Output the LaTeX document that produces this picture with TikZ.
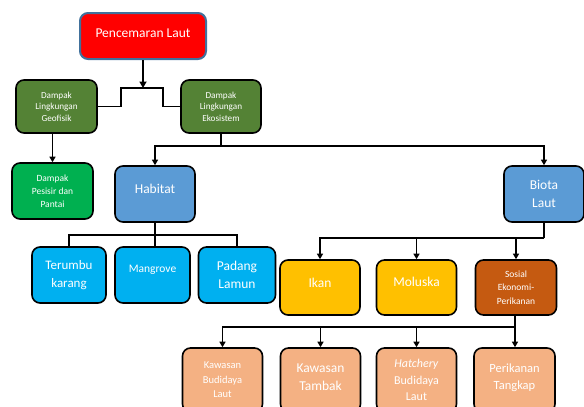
\documentclass[tikz,border=0pt]{standalone}
\usepackage{fontspec}
\setmainfont{Carlito}
\usetikzlibrary{arrows.meta}

\definecolor{redtop}{HTML}{FF0000}
\definecolor{blueedge}{HTML}{41719C}
\definecolor{olive}{HTML}{548235}
\definecolor{brightgreen}{HTML}{00B050}
\definecolor{steel}{HTML}{5B9BD5}
\definecolor{cyanbox}{HTML}{00B0F0}
\definecolor{amber}{HTML}{FFC000}
\definecolor{rust}{HTML}{C55A11}
\definecolor{salmon}{HTML}{F4B183}

\newcommand{\fsz}[2]{\fontsize{#1}{#2}\selectfont}

\tikzset{
	box/.style={draw=black, line width=1.6pt, rounded corners=8pt, text=white, align=center, inner sep=1pt},
	link/.style={line width=1.3pt},
	arr/.style={link, -{Triangle[length=5.5pt,width=6pt]}},
}

\begin{document}
\begin{tikzpicture}[x=1pt, y=-1pt]
		\useasboundingbox (0,0) rectangle (584,407);

		%top of the tree
		\node[box, draw=blueedge, line width=2pt, fill=redtop, minimum width=126pt, minimum height=46pt, font=\fsz{13.5}{16}] (laut) at (143,36) {Pencemaran Laut\\[-10pt]};

		%the two kinds of impact
		\node[box, fill=olive, minimum width=81pt, minimum height=53pt, font=\fsz{9.2}{11.5}] (geofisik) at (56.5,106.5) {Dampak\\Lingkungan\\Geofisik};
		\node[box, fill=olive, minimum width=80pt, minimum height=53pt, font=\fsz{9.2}{11.5}] (ekosistem) at (221,106.5) {Dampak\\Lingkungan\\Ekosistem};
		\coordinate (lauttop) at (143,88);
		\draw[link, line width=2pt, -{Triangle[length=6.5pt,width=7pt]}] (laut) -- (lauttop);
		\draw[link] (geofisik.east) -| ([xshift=-22pt]lauttop) -- ([xshift=20pt]lauttop) |- (ekosistem.west);

		%geophysical branch
		\node[box, fill=brightgreen, minimum width=81pt, minimum height=56pt, font=\fsz{9.5}{13}] (pesisir) at (52.5,191) {Dampak\\Pesisir dan\\Pantai};
		\draw[arr] (geofisik.south -| pesisir) -- (pesisir);

		%ecosystem branch
		\node[box, fill=steel, minimum width=80pt, minimum height=56pt, font=\fsz{13.5}{17.5}] (habitat) at (155,194) {Habitat\\[-8pt]};
		\node[box, fill=steel, minimum width=80pt, minimum height=56pt, font=\fsz{13.5}{17.5}] (biota) at (544,194) {Biota\\Laut};
		\coordinate (ekobar) at (221,146);
		\draw[link] (ekosistem) -- (ekobar);
		\draw[arr] (ekobar) -| (habitat.north);
		\draw[arr] (ekobar) -| (biota.north);

		%habitat types
		\node[box, fill=cyanbox, minimum width=74pt, minimum height=56pt, font=\fsz{13}{17.5}] (terumbu) at (69,275) {Terumbu\\karang};
		\node[box, fill=cyanbox, minimum width=75pt, minimum height=56pt, font=\fsz{11.5}{14}] (mangrove) at (152.5,275) {Mangrove\\[-2pt]};
		\node[box, fill=cyanbox, minimum width=77pt, minimum height=56pt, font=\fsz{13.5}{17.5}] (padang) at (237,275) {Padang\\Lamun};
		\coordinate (habbar) at (155,235);
		\draw[link] (habitat) -- (habbar -| habitat) -- (habbar |- mangrove.north);
		\draw[link] (terumbu.north) |- (habbar) -| (padang.north);

		%marine biota
		\node[box, fill=amber, minimum width=80pt, minimum height=55pt, font=\fsz{13.5}{17}] (ikan) at (320,287.5) {Ikan\\[-8pt]};
		\node[box, fill=amber, minimum width=80pt, minimum height=55pt, font=\fsz{13.5}{17}] (moluska) at (416.5,287.5) {Moluska\\[-6pt]};
		\node[box, fill=rust, minimum width=81pt, minimum height=55pt, font=\fsz{9.5}{13.3}] (sosial) at (516,287.5) {Sosial\\Ekonomi-\\Perikanan};
		\coordinate (biobar) at (544,238);
		\draw[link] (biota) -- (biobar);
		\draw[arr] (biobar) -| (ikan.north);
		\draw[arr] (biobar) -| (moluska.north);
		\draw[arr] (biobar) -| (sosial.north);

		%fisheries, cut by the lower edge
		\node[box, fill=salmon, minimum width=80pt, minimum height=64pt, font=\fsz{10.5}{14.5}] (budidaya) at (222.5,380) {Kawasan\\Budidaya\\Laut};
		\node[box, fill=salmon, minimum width=80pt, minimum height=64pt, font=\fsz{13.5}{18}] (tambak) at (320.5,380) {Kawasan\\Tambak\\[-12pt]};
		\node[box, fill=salmon, minimum width=80pt, minimum height=64pt, font=\fsz{12}{16.3}] (hatchery) at (416.5,380) {\textit{Hatchery}\\Budidaya\\Laut};
		\node[box, fill=salmon, minimum width=81pt, minimum height=64pt, font=\fsz{12.5}{17.3}] (tangkap) at (514.5,380) {Perikanan\\Tangkap\\[-11pt]};
		\coordinate (sosbar) at (515,327);
		\draw[link] (sosial.south -| sosbar) -- (sosbar);
		\draw[arr] (sosbar) -| (budidaya.north);
		\draw[arr] (sosbar) -| (tambak.north);
		\draw[arr] (sosbar) -| (hatchery.north);
		\draw[arr] (sosbar) -- (sosbar |- tangkap.north);
	\end{tikzpicture}
\end{document}
